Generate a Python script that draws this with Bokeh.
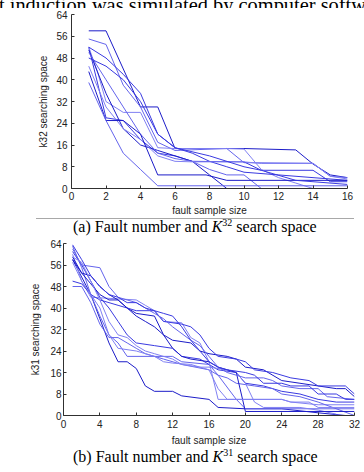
from bokeh.embed import file_html
from bokeh.layouts import column
from bokeh.models import Div, FixedTicker, Range1d
from bokeh.plotting import figure
from bokeh.resources import INLINE

# ---------------- shared axis ticks ----------------
ticks_y = [0, 8, 16, 24, 32, 40, 48, 56, 64]
ticks_x_a = [0, 2, 4, 6, 8, 10, 12, 14, 16]
ticks_x_b = [0, 4, 8, 12, 16, 20, 24, 28, 32]

# ---------------- (a) K32 search space, one run per polyline ----------------
a1_x = [1, 2, 4, 5, 6, 10, 13, 14, 15, 16]
a1_y = [58, 58, 30, 30, 14.7, 14.7, 14.2, 9, 5, 4]
a2_x = [1, 2, 3, 4, 5, 6, 9, 10, 14, 15, 16]
a2_y = [55, 53, 38, 30, 17, 14, 14.7, 9.5, 9.3, 4.5, 4]
a3_x = [1, 2, 3, 4, 5, 6, 7, 10, 11, 14, 15, 16]
a3_y = [52, 26, 25, 18, 13, 12, 10, 9.8, 6.7, 6.7, 2.5, 2.5]
a4_x = [1, 1.5, 2, 3, 4, 5, 6, 9, 10, 11, 12, 13, 14]
a4_y = [52, 43, 32, 28, 28, 15, 14.7, 14.7, 14.5, 7, 4, 2, 0]
a5_x = [1, 2, 3, 4, 5, 6, 7, 8, 9]
a5_y = [51, 35, 22, 16, 14, 12, 10, 5, 0]
a6_x = [1, 2, 3, 4, 5, 6, 7, 8, 9, 10, 11]
a6_y = [50, 40, 30, 20, 13, 11, 10, 7, 5, 5, 0]
a7_x = [1, 2, 3, 4, 5, 6, 7, 8, 9, 10, 12, 16]
a7_y = [48, 45, 40, 32, 20, 15, 13, 10, 8, 6, 5, 3]
a8_x = [1, 2, 3, 4, 5, 6, 7, 10, 11, 14, 15, 16]
a8_y = [45, 30, 22, 18, 12, 10, 9.8, 9.8, 9.2, 9.2, 4.5, 3.5]
a9_x = [1, 2, 3, 4, 5, 7.8, 9, 16]
a9_y = [43, 25, 25, 20, 5, 5, 3, 3]
a10_x = [1, 2, 3, 4, 5, 16]
a10_y = [39, 25, 13, 7, 1, 1]
a11_x = [1, 2, 3, 4, 5, 6, 8, 10, 11, 13, 16]
a11_y = [52, 48, 42, 35, 20, 15, 12, 8, 6.7, 3, 1.5]

# ---------------- (b) K31 search space, one run per polyline ----------------
b1_x = [1, 3, 4, 5, 6, 7, 8, 9, 10, 12, 13, 16, 17, 20, 24, 28, 31]
b1_y = [58, 45, 36, 27, 20, 20, 17.5, 11, 9, 9, 7.3, 6, 3, 2.5, 2.5, 1, 0]
b2_x = [1, 2, 3, 4, 5, 6, 7, 12, 13, 16, 17, 19, 20, 32]
b2_y = [63, 55, 45, 37, 30, 27, 22, 22, 20, 19, 15, 6, 2.5, 2.5]
b3_x = [1, 2, 3, 4, 5, 6, 7, 8, 10, 12, 13, 15, 16, 17, 19, 20, 22, 24, 26, 28, 30, 32]
b3_y = [61, 56, 50, 44, 40, 35, 30, 27, 26, 25, 22, 21, 19, 17, 16, 12, 11, 9, 8, 6, 5, 5]
b4_x = [1, 2, 3, 8, 9, 10, 11, 13, 14, 15, 16, 17, 24, 25, 28, 32]
b4_y = [60, 50, 44, 43, 41, 39, 35, 34.5, 29, 27, 20, 6, 6, 5, 4, 4]
b5_x = [1, 2, 3, 4, 5, 6, 7, 8, 10, 11, 12, 14, 15, 16, 18, 19, 20, 22, 24, 26, 28, 30, 31, 32]
b5_y = [59, 53, 49, 45, 43, 43, 40, 38, 37, 30, 28, 27, 24, 23, 22, 21, 18, 17, 13, 12, 11, 10, 10, 7]
b6_x = [1, 2, 3, 4, 5, 6, 7, 8, 9, 11, 13, 16, 17, 18, 19, 21, 23, 24, 26, 28, 32]
b6_y = [48, 48, 42, 34, 29, 29, 27, 25, 23, 21, 19, 17, 15, 14, 12, 11, 10, 8, 7, 5, 0]
b7_x = [1, 2, 3, 4, 5, 6, 7, 8, 10, 11, 13, 14, 15, 16, 17, 19, 20, 21, 23, 25, 27, 28, 31, 32]
b7_y = [50, 49, 45, 43, 42, 41, 40, 39, 39, 35, 34, 33, 30, 25, 22, 21, 20, 17, 16, 14, 13, 11, 11, 8]
b8_x = [1, 2, 3, 4, 5, 6, 8, 9, 10, 11, 12, 14, 15, 16, 18, 19, 20, 21, 22, 26, 28, 30]
b8_y = [57, 50, 45, 40, 30, 25, 24, 23, 22, 20, 19.5, 19, 18, 18, 17, 16, 12, 5, 3, 3, 2, 0.5]
b9_x = [1, 2, 3, 4, 5, 6, 7, 8, 9, 10, 11, 12, 13, 14, 16, 17, 18, 19, 20, 32]
b9_y = [58, 53, 52, 48, 45, 43, 40, 37, 35, 33, 30, 25, 22, 21, 20, 18, 17, 16, 1.5, 1.5]
b10_x = [1, 2, 4, 5, 6, 7, 8, 9, 10, 11, 12, 14, 15, 16, 17, 18, 20, 22, 23, 24, 26, 28, 29, 32]
b10_y = [62, 56, 55, 48, 44, 43, 42, 40, 38, 36, 33, 28, 26, 22, 18, 16, 14, 14, 13, 11, 10, 10, 7, 6]
b11_x = [1, 2, 3, 4, 5, 6, 7, 8, 9, 10, 11, 12, 13, 14, 15, 16, 17, 18, 20, 21, 22, 24, 25, 27, 28, 30, 31, 32]
b11_y = [63.5, 58, 52, 48, 45, 44, 42, 42, 40, 39, 38, 37, 33, 28, 24, 20, 18, 17, 16, 15, 12, 12, 11, 11, 8, 8, 6, 6]
b12_x = [1, 2, 3, 4, 5, 6, 7, 8, 9, 10, 11, 12, 13, 15, 16, 17, 18, 24, 25, 27, 28, 32]
b12_y = [59, 57, 50, 43, 35, 30, 29, 26, 24, 23, 22, 21, 19, 18, 17, 10, 6, 6, 5, 5, 3, 3]

runs_a = [(a1_x, a1_y), (a2_x, a2_y), (a3_x, a3_y), (a4_x, a4_y), (a5_x, a5_y),
          (a6_x, a6_y), (a7_x, a7_y), (a8_x, a8_y), (a9_x, a9_y), (a10_x, a10_y),
          (a11_x, a11_y)]
runs_b = [(b1_x, b1_y), (b2_x, b2_y), (b3_x, b3_y), (b4_x, b4_y), (b5_x, b5_y),
          (b6_x, b6_y), (b7_x, b7_y), (b8_x, b8_y), (b9_x, b9_y), (b10_x, b10_y),
          (b11_x, b11_y), (b12_x, b12_y)]

BLUES = ["#1c1cc8", "#6464ec", "#3a3ae0", "#8080f2"]
SANS = "Liberation Sans"
W = 364


def make_panel(height, left, right, top, bottom, xmax, xticks, ylabel, runs,
               tick_standoff, label_standoff):
    p = figure(width=W, height=height, x_range=Range1d(0, xmax), y_range=Range1d(0, 64),
               output_backend="svg", toolbar_location=None,
               min_border_left=left, min_border_right=right,
               min_border_top=top, min_border_bottom=bottom)
    p.outline_line_color = None
    p.grid.visible = False
    p.xaxis.ticker = FixedTicker(ticks=xticks)
    p.yaxis.ticker = FixedTicker(ticks=ticks_y)
    p.xaxis.axis_label = "fault sample size"
    p.yaxis.axis_label = ylabel
    for ax in (p.xaxis, p.yaxis):
        ax.axis_line_color = "#303030"
        ax.major_tick_line_color = "#303030"
        ax.major_tick_in = 3
        ax.major_tick_out = 0
        ax.minor_tick_line_color = None
        ax.major_label_text_font = SANS
        ax.major_label_text_font_size = "10px"
        ax.major_label_text_color = "#222222"
        ax.axis_label_text_font = SANS
        ax.axis_label_text_font_size = "10px"
        ax.axis_label_text_font_style = "normal"
        ax.axis_label_text_color = "#222222"
    p.xaxis.major_label_standoff = tick_standoff[0]
    p.yaxis.major_label_standoff = tick_standoff[1]
    p.xaxis.axis_label_standoff = label_standoff[0]
    p.yaxis.axis_label_standoff = label_standoff[1]
    for i, (xs, ys) in enumerate(runs):
        p.line(xs, ys, line_color=BLUES[i % len(BLUES)], line_width=1)
    return p


SERIF_CSS = "font-family:'Liberation Serif','Times New Roman',serif; color:black; white-space:nowrap;"


def caption_html(letter, sup, rule):
    rule_html = ('<div style="margin-left:36px; width:318px; height:1px; background:#a8a8a8;"></div>'
                 if rule else '<div style="height:1px;"></div>')
    return (rule_html +
            f'<div style="{SERIF_CSS} font-size:16px; line-height:16px; margin-left:73px;">'
            f'({letter}) Fault number and <i>K</i>'
            f'<span style="font-size:10px; position:relative; top:-6px;">{sup}</span>'
            ' search space</div>')


# running body text above the figure (only its lower part shows)
head = Div(text=f'<div style="{SERIF_CSS} font-size:20.4px; line-height:20px; margin-top:-10px; margin-left:-1px;">'
                't induction was simulated by computer softwa</div>',
           width=W, height=8, margin=(0, 0, 0, 0), styles={"overflow": "hidden"})

# upper panel
pa = make_panel(210, 71, 17, 6, 28, 16, ticks_x_a, "k32 searching space", runs_a,
                (3, 4), (2, 4))

cap_a = Div(text=caption_html("a", "32", True), width=W, height=19, margin=(0, 0, 0, 0),
            styles={"overflow": "hidden"})

# lower panel
pb = make_panel(211, 63, 10, 6, 30, 32, ticks_x_b, "k31 searching space", runs_b,
                (4, 2), (4, 6))

cap_b = Div(text=caption_html("b", "31", False), width=W, height=24, margin=(0, 0, 0, 0),
            styles={"overflow": "hidden"})

# each panel sits in its own column so the two frames keep their own borders
layout = column(head, column(pa), cap_a, column(pb), cap_b, spacing=0)
open("out.html", "w").write(file_html(layout, INLINE))
